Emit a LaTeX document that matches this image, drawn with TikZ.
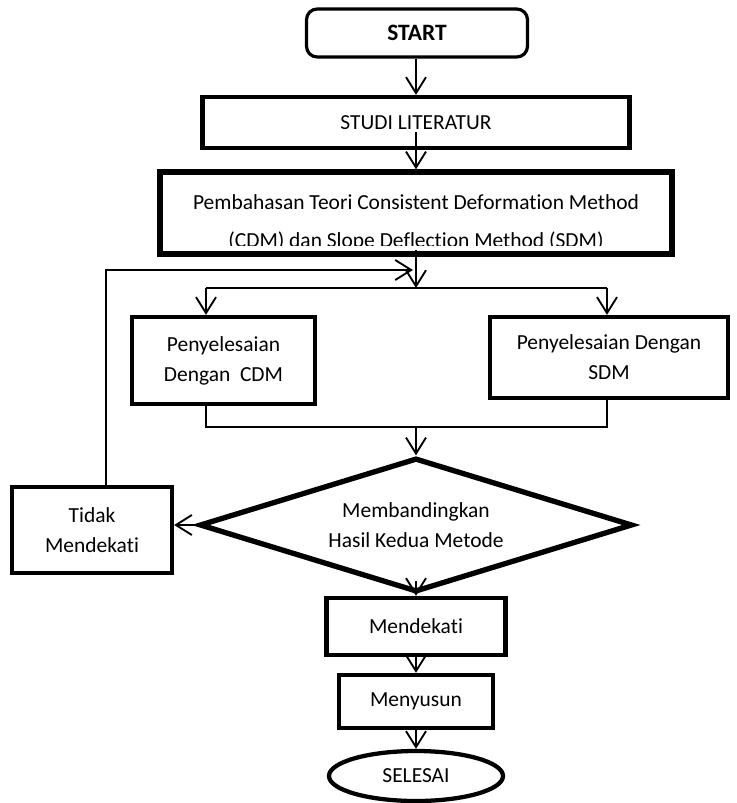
\documentclass[tikz,border=0pt]{standalone}
\usepackage{fontspec}
\setmainfont{Carlito}[Ligatures={NoCommon,NoContextual,NoRequired}]
\usetikzlibrary{arrows.meta,shapes.geometric}
\begin{document}
\begin{tikzpicture}[x=0.75pt,y=-0.75pt,
  every node/.style={font=\fontsize{16.1}{22.5}\selectfont, inner sep=0pt, align=center},
  sz/.style 2 args={minimum width=#1*0.75pt, minimum height=#2*0.75pt},
  box/.style={draw, line width=3.2pt, rectangle},
  line/.style={line width=1.4pt},
  arr/.style={line width=1.4pt, -{Straight Barb[length=12pt,width=15pt]}},
]
\useasboundingbox (0,0) rectangle (736,803);

\node[box, rounded corners=8pt, line width=2.4pt, sz={221}{48}, font=\fontsize{17.6}{22.5}\selectfont\bfseries] (start) at (417,33) {START};
\node[box, sz={427}{51}] (studi) at (416,122.5) {STUDI LITERATUR};
\node[box, sz={512}{82}, line width=4pt] (cdm) at (416,213) {};
\begin{scope}
\clip (160,172) rectangle (676,245);
\node[font=\fontsize{16.1}{28.5}\selectfont] (cdmtext) at (416,222.5) {Pembahasan Teori Consistent Deformation Method\\(CDM) dan Slope Deflection Method (SDM)};
\end{scope}
\node[box, sz={183}{87}] (pL) at (223.5,360.5) {Penyelesaian\\Dengan\ \ CDM};
\node[box, sz={238}{81}] (pR) at (609,357.5) {Penyelesaian Dengan\\SDM};
\node[draw, diamond, aspect=3.2, line width=4pt, sz={433}{134}] (dia) at (416,525) {Membandingkan\\Hasil Kedua Metode};
\node[box, sz={160}{86}] (tidak) at (92,530) {Tidak\\Mendekati};
\node[box, sz={179}{57}] (mend) at (416,626.5) {Mendekati};
\node[box, sz={154}{53}] (meny) at (416,701.5) {Menyusun};
\node[draw, ellipse, line width=3.2pt, sz={174}{50}] (sel) at (416,776) {SELESAI};

\coordinate (j) at (416,288);
\coordinate (jL) at (206,288);
\coordinate (jR) at (607,288);
\coordinate (mL) at (206,427);
\coordinate (mR) at (607,427);
\coordinate (m) at (416,427);
\coordinate (lp) at (106,270);
\coordinate (fb) at (413,270);

\draw[arr] (start.south -| studi.north) -- (studi.north);
\draw[arr] ([yshift=13.5pt]studi.south) -- (cdm.north);
\draw[arr] ([yshift=5pt]cdm.south) -- (j);
\draw[line] (jL) -- (jR);
\draw[arr] (jL) -- (jL |- pL.north);
\draw[arr] (jR) -- (jR |- pR.north);
\draw[line] (mL |- pL.south) -- (mL) -- (mR) -- (mR |- pR.south);
\draw[arr] (m) -- (dia.north);
\draw[arr] (dia.west) -- (dia.west -| tidak.east);
\draw[arr] (lp |- tidak.north) -- (lp) -- (fb);
\draw[arr] ([yshift=10pt]dia.south) -- (mend.north);
\draw[arr] (mend.south) -- (meny.north);
\draw[arr] (meny.south) -- (sel.north);
\end{tikzpicture}
\end{document}
